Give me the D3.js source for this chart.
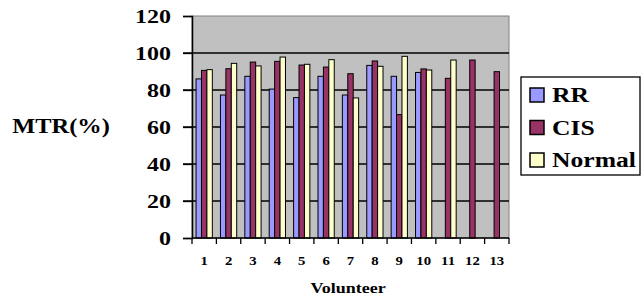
<!DOCTYPE html>
<html>
<head>
<meta charset="utf-8">
<script src="https://cdn.jsdelivr.net/npm/d3@7"></script>
<style>
  body { margin: 0; background: #fff; }
  svg text { font-family: "Liberation Serif", "Times New Roman", serif; font-weight: bold; fill: #000; }
</style>
</head>
<body>
<div id="chart"></div>
<script>
// data
var volunteers = ["1", "2", "3", "4", "5", "6", "7", "8", "9", "10", "11", "12", "13"]
var series_names = ["RR", "CIS", "Normal"]
var series_colors = ["#9999ff", "#993366", "#ffffcc"]
var rr_values = [86, 77.3, 87.4, 80.5, 75.9, 87.4, 77.3, 93.3, 87.4, 89.5, null, null, null]
var cis_values = [90.6, 91.5, 95.1, 95.5, 93.5, 92.4, 88.8, 95.7, 66.7, 91.4, 86.3, 96.2, 89.9]
var normal_values = [91, 94.4, 93, 97.8, 93.9, 96.4, 75.7, 92.8, 98.2, 90.8, 96.2, null, null]
var y_ticks = [0, 20, 40, 60, 80, 100, 120]

var all_values = [rr_values, cis_values, normal_values]

var width = 642, height = 296
var plot = {left: 192, right: 509, top: 16, bottom: 238}
// the original picture is a bit wider than tall, so stretch the text the same way
var sx = 1.23

var svg = d3.select("#chart").append("svg")
  .attr("width", width)
  .attr("height", height)

// place a text at x,y, stretched horizontally
function add_text(parent, x, y, txt, size, anchor, stretch){
  return parent.append("text")
    .attr("transform", "translate(" + x + "," + y + ") scale(" + (stretch || sx) + ",1)")
    .attr("text-anchor", anchor || "start")
    .style("font-size", size + "px")
    .text(txt)
}

// scales
var x = d3.scaleBand()
  .domain(volunteers)
  .range([plot.left, plot.right])
var barw = x.bandwidth() / 4.5
var y = d3.scaleLinear()
  .domain([0, 120])
  .range([plot.bottom, plot.top])

// grey plot background
svg.append("rect")
  .attr("x", plot.left)
  .attr("y", plot.top)
  .attr("width", plot.right - plot.left)
  .attr("height", plot.bottom - plot.top)
  .attr("fill", "#c0c0c0")
  .attr("stroke", "#808080")
  .attr("stroke-width", 1)

// gridlines
svg.append("g")
  .selectAll("line")
  .data(y_ticks.filter(function(d){ return d > 0 && d < 120 }))
  .enter().append("line")
    .attr("x1", plot.left - 9)
    .attr("x2", plot.right)
    .attr("y1", function(d){ return y(d) })
    .attr("y2", function(d){ return y(d) })
    .attr("stroke", "#000")
    .attr("stroke-width", 1.3)

// bars
series_names.forEach(function(name, i){
  var rows = volunteers.map(function(v, j){ return {v: v, val: all_values[i][j]} })
    .filter(function(d){ return d.val != null })
  svg.append("g")
    .selectAll("rect")
    .data(rows)
    .enter().append("rect")
      .attr("x", function(d){ return x(d.v) + barw * 0.75 + i * barw })
      .attr("y", function(d){ return y(d.val) })
      .attr("width", barw)
      .attr("height", function(d){ return y(0) - y(d.val) })
      .attr("fill", series_colors[i])
      .attr("stroke", "#000")
      .attr("stroke-width", 1)
})

// y axis
var y_axis = svg.append("g")
  .attr("transform", "translate(" + plot.left + ",0)")
  .call(d3.axisLeft(y).tickValues(y_ticks).tickSize(9).tickPadding(12))
y_axis.attr("font-family", null).attr("font-size", null)
y_axis.select(".domain").attr("stroke-width", 1.5)
y_axis.selectAll("line").attr("stroke-width", 1.3)
y_axis.selectAll("text")
  .attr("x", null)
  .attr("dy", "0.34em")
  .attr("transform", "translate(-21,0) scale(" + sx + ",1)")
  .style("font-size", "19.5px")

// x axis, ticks between groups
var x_axis = svg.append("g")
  .attr("transform", "translate(0," + plot.bottom + ")")
x_axis.append("line")
  .attr("x1", plot.left)
  .attr("x2", plot.right)
  .attr("stroke", "#000")
  .attr("stroke-width", 1.5)
x_axis.selectAll("line.tick")
  .data(volunteers.concat(["end"]))
  .enter().append("line")
    .attr("class", "tick")
    .attr("x1", function(d){ return d == "end" ? plot.right : x(d) })
    .attr("x2", function(d){ return d == "end" ? plot.right : x(d) })
    .attr("y1", 0)
    .attr("y2", 6)
    .attr("stroke", "#000")
    .attr("stroke-width", 1.3)
volunteers.forEach(function(v){
  add_text(x_axis, x(v) + x.bandwidth() / 2, 27, v, 12, "middle")
})

// axis titles
add_text(svg, 61, 133, "MTR(%)", 20, "middle", 1.22)
add_text(svg, 348, 293, "Volunteer", 15, "middle", 1.2)

// legend
var legend = svg.append("g")
legend.append("rect")
  .attr("x", 521)
  .attr("y", 77)
  .attr("width", 119)
  .attr("height", 98)
  .attr("fill", "#fff")
  .attr("stroke", "#000")
  .attr("stroke-width", 1.3)
series_names.forEach(function(name, i){
  var item = legend.append("g")
    .attr("transform", "translate(530," + (88 + i * 32.5) + ")")
  item.append("rect")
    .attr("width", 14)
    .attr("height", 14)
    .attr("fill", series_colors[i])
    .attr("stroke", "#000")
    .attr("stroke-width", 1.5)
  add_text(item, 22, 14, name, 20, "start", 1.28)
})
</script>
</body>
</html>
